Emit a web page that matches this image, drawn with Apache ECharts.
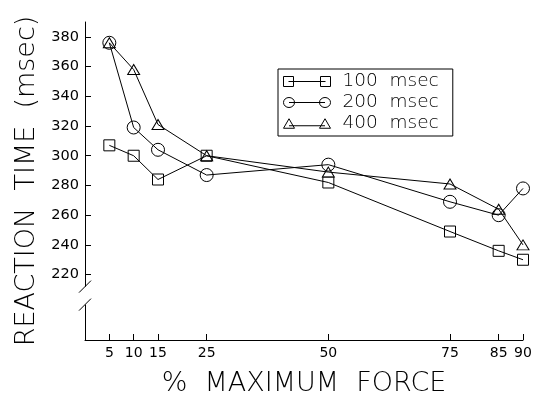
<!DOCTYPE html>
<html>
<head>
<meta charset="utf-8">
<script src="https://cdn.jsdelivr.net/npm/echarts@6/dist/echarts.min.js"></script>
<style>
html,body{margin:0;padding:0;background:#fff;}
#c{width:540px;height:402px;}
</style>
</head>
<body>
<div id="c"></div>
<script>
const forcePct = [5, 10, 15, 25, 50, 75, 85, 90];
const rt100 = [307, 300, 284, 300, 282, 249, 236, 230];
const rt200 = [376, 319, 304, 287, 294, 269, 260, 278];
const rt400 = [376, 358, 321, 300, 289, 281, 264, 240];
const xTicks = [5, 10, 15, 25, 50, 75, 85, 90];
const yTicks = [220, 240, 260, 280, 300, 320, 340, 360, 380];
const seriesNames = ['100  msec', '200  msec', '400  msec'];

const FONT = 'DejaVu Sans';
const W = 200;

function pairs(vals){ return forcePct.map((x,i)=>[x, vals[i]]); }

const icons = {
  rect: 'path://M0,0.5 H10 V10.5 H0 Z M5,5.5 H42 M37,0.5 H47 V10.5 H37 Z',
  circle: 'path://M0,5.5 A5.5,5 0 1 1 11,5.5 A5.5,5 0 1 1 0,5.5 Z M5.5,5.5 H41.5 M36,5.5 A5.5,5 0 1 1 47,5.5 A5.5,5 0 1 1 36,5.5 Z',
  tri: 'path://M0,10.5 L5.5,1 L11,10.5 Z M5.5,8 H41.5 M36,10.5 L41.5,1 L47,10.5 Z'
};

function mk(name, vals, symbol, size){
  return {
    name: name, type: 'line', data: pairs(vals),
    symbol: symbol, symbolSize: size,
    lineStyle: {color: '#000', width: 1},
    itemStyle: {color: 'transparent', borderColor: '#000', borderWidth: 1},
    emphasis: {disabled: true},
    animation: false
  };
}

const chart = echarts.init(document.getElementById('c'), null, {renderer: 'canvas'});
chart.setOption({
  backgroundColor: '#fff',
  animation: false,
  grid: {left: 85, right: 17, top: 22, bottom: 62},
  legend: {
    orient: 'vertical', left: 278, top: 69,
    padding: [3, 14, 3, 5],
    itemGap: 2, itemWidth: 47, itemHeight: 11,
    borderColor: '#000', borderWidth: 1,
    selectedMode: false,
    data: [
      {name: seriesNames[0], icon: icons.rect},
      {name: seriesNames[1], icon: icons.circle},
      {name: seriesNames[2], icon: icons.tri}
    ],
    itemStyle: {color: 'transparent', borderColor: '#000', borderWidth: 1},
    textStyle: {fontFamily: FONT, fontWeight: W, fontSize: 18.5, color: '#000', padding: [0, 0, 0, 7]}
  },
  xAxis: {
    type: 'value', min: 0, max: 90,
    name: '%  MAXIMUM  FORCE', nameLocation: 'middle', nameGap: 30,
    nameTextStyle: {fontFamily: FONT, fontWeight: W, fontSize: 27, color: '#000'},
    axisLine: {lineStyle: {color: '#000', width: 1}},
    axisTick: {inside: true, length: 6, lineStyle: {color: '#000'}, customValues: xTicks},
    axisLabel: {customValues: xTicks, margin: 6, fontFamily: FONT, fontSize: 14, color: '#000'},
    splitLine: {show: false}
  },
  yAxis: {
    type: 'value', min: 176, max: 390,
    name: 'REACTION  TIME  (msec)', nameLocation: 'middle', nameGap: 45,
    nameTextStyle: {fontFamily: FONT, fontWeight: W, fontSize: 27, color: '#000'},
    axisLine: {show: true, lineStyle: {color: '#000', width: 1}},
    axisTick: {inside: true, length: 6, lineStyle: {color: '#000'}, customValues: yTicks},
    axisLabel: {customValues: yTicks, margin: 6, fontFamily: FONT, fontSize: 14.5, color: '#000'},
    splitLine: {show: false}
  },
  series: [
    mk(seriesNames[0], rt100, 'rect', 11),
    mk(seriesNames[1], rt200, 'circle', 13),
    mk(seriesNames[2], rt400, 'triangle', [12, 10])
  ]
});

// axis break marks on the y axis, just below the 220 tick
const p220 = chart.convertToPixel({yAxisIndex: 0}, 220);
const ax = chart.convertToPixel({xAxisIndex: 0}, 0);
const y1 = p220 + 12, y2 = p220 + 30;
chart.setOption({
  graphic: [
    {type: 'rect', shape: {x: ax - 3, y: y1, width: 6, height: y2 - y1}, style: {fill: '#fff'}, z: 100},
    {type: 'line', shape: {x1: ax - 6, y1: y1 + 6, x2: ax + 6, y2: y1 - 6}, style: {stroke: '#000', lineWidth: 1}, z: 101},
    {type: 'line', shape: {x1: ax - 6, y1: y2 + 6, x2: ax + 6, y2: y2 - 6}, style: {stroke: '#000', lineWidth: 1}, z: 101}
  ]
});
</script>
</body>
</html>
